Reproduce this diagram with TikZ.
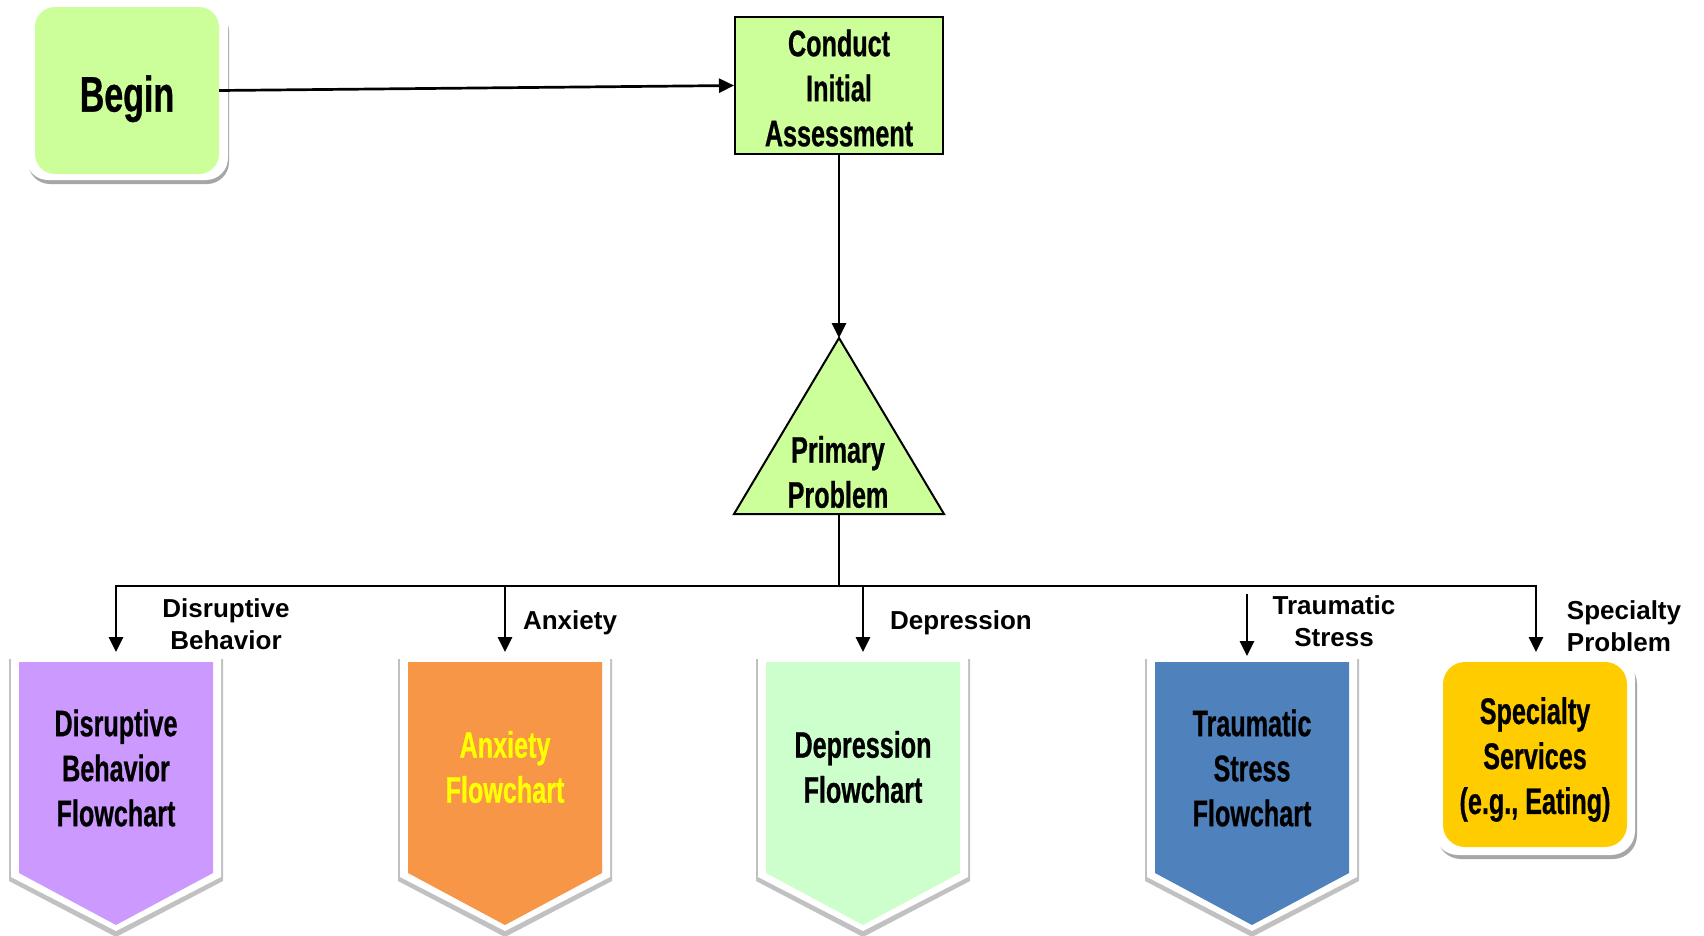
\documentclass[tikz,border=0pt]{standalone}
\usepackage{fontspec}
\setmainfont{Liberation Sans}
\newfontfamily\agency[FakeStretch=0.68,FakeBold=0.6]{Liberation Sans}
\usetikzlibrary{arrows.meta}
\definecolor{limeG}{HTML}{CCFF99}
\definecolor{mintG}{HTML}{CCFFCC}
\definecolor{purpleP}{HTML}{CC99FF}
\definecolor{orangeO}{HTML}{F79646}
\definecolor{blueB}{HTML}{4F81BD}
\definecolor{yellowY}{HTML}{FFCC00}
\definecolor{textY}{HTML}{FFFF00}
\definecolor{shadowG}{HTML}{A6A6A6}
\newcommand\chevshape[2]{%
  \fill[shadowG!70] ({#1-107},659) -- ({#1+107},659) -- ({#1+107},881) -- (#1,937) -- ({#1-107},881) -- cycle;
  \fill[white] ({#1-105},656) -- ({#1+105},656) -- ({#1+105},877) -- (#1,931) -- ({#1-105},877) -- cycle;
  \fill[#2] ({#1-97},662) -- ({#1+97},662) -- ({#1+97},873) -- (#1,925) -- ({#1-97},873) -- cycle;
}
\begin{document}
\begin{tikzpicture}[x=1pt,y=-1pt,
  arr/.style={line width=2.7pt,-{Triangle[length=15pt,width=14pt]}},
  ln/.style={line width=2.7pt},
  agt/.style={font=\agency\bfseries\fontsize{37}{45}\selectfont,align=center,inner sep=0pt},
  lab/.style={font=\bfseries\fontsize{26}{32}\selectfont,align=center,inner sep=0pt},
]
\useasboundingbox (0,0) rectangle (1704,935);
\fill[white] (0,0) rectangle (1704,935);

% Begin
\fill[shadowG,rounded corners=22pt] (28,9) rectangle (229,184);
\fill[white,rounded corners=22pt] (26,3) rectangle (228,180);
\node (begin) [fill=limeG, rounded corners=20pt, minimum width=184pt, minimum height=167pt, inner sep=0pt,
  font=\agency\bfseries\fontsize{50}{60}\selectfont, text depth=0pt] at (127,90.5) {\raisebox{-6pt}{Begin}};

% Conduct initial assessment
\node (ca) [draw, line width=2pt, fill=limeG, minimum width=208pt, minimum height=137pt, agt] at (839,85.5)
  {\parbox{200pt}{\centering\vspace*{5pt}Conduct\\Initial\\Assessment}};
\draw[arr] (begin.east) -- (ca.west);

% Primary problem triangle
\coordinate (apex) at (839,338);
\coordinate (tbase) at (839,514);
\draw[line width=2pt, fill=limeG, line join=miter] (apex) -- (944,514) -- (734,514) -- cycle;
\node (pp) [agt] at (838,472) {Primary\\Problem};
\draw[arr] (ca.south) -- (apex);

% bus
\coordinate (junc) at (839,586);
\coordinate (bl) at (116,586);
\coordinate (br) at (1536,586);
\draw[ln] (tbase) -- (junc);

% chevrons
\chevshape{116}{purpleP}
\chevshape{505}{orangeO}
\chevshape{863}{mintG}
\chevshape{1252}{blueB}

\node (dis) [agt] at (116,768) {Disruptive\\Behavior\\Flowchart};
\node (anx) [agt, text=textY] at (505,767) {Anxiety\\Flowchart};
\node (dep) [agt] at (863,767) {Depression\\Flowchart};
\node (tra) [agt] at (1252,768) {Traumatic\\Stress\\Flowchart};

% specialty box
\fill[shadowG,rounded corners=24pt] (1437,660) rectangle (1637,859);
\fill[white,rounded corners=24pt] (1434,654) rectangle (1635,855);
\node (spec) [fill=yellowY, rounded corners=22pt, minimum width=184pt, minimum height=185pt, agt] at (1535,754.5)
  {\parbox{184pt}{\centering\vspace*{10pt}Specialty\\Services\\(e.g., Eating)}};

% targets
\coordinate (dtop) at (116,652);
\coordinate (atop) at (505,652);
\coordinate (deptop) at (863,652);
\coordinate (tstart) at (1247,594);
\coordinate (ttop) at (1247,656);
\coordinate (stop) at (1536,652);
\coordinate (abus) at (505,586);
\coordinate (dbus) at (863,586);

\draw[arr] (junc) -- (bl) -- (dtop);
\draw[arr] (junc) -- (br) -- (stop);
\draw[arr] (abus) -- (atop);
\draw[arr] (dbus) -- (deptop);
\draw[arr] (tstart) -- (ttop);

% labels
\node (l1) [lab] at (226,624) {Disruptive\\Behavior};
\node (l2) [lab] at (570,623) {Anxiety};
\node (l3) [lab] at (961,623) {Depression};
\node (l4) [lab] at (1334,621) {Traumatic\\Stress};
\node (l5) [lab, align=left] at (1624,626) {Specialty\\Problem};
\end{tikzpicture}
\end{document}
